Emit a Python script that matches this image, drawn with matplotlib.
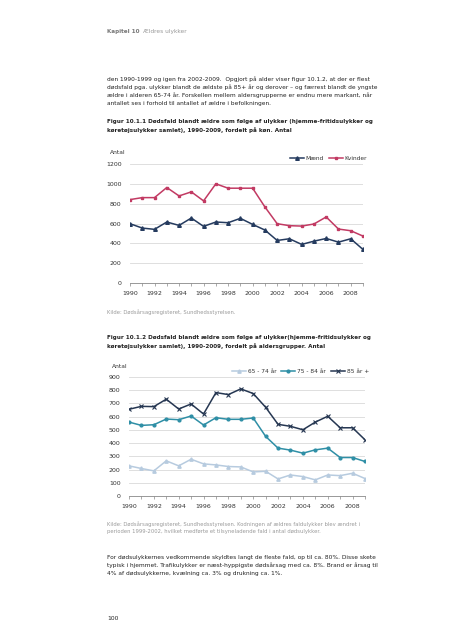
import matplotlib
matplotlib.use("Agg")
import matplotlib.pyplot as plt

plt.rcParams['font.family'] = ['DejaVu Sans']

years = list(range(1990, 2010))

# Figur 10.1.1 - by sex
maend = [598, 554, 541, 615, 581, 655, 571, 615, 608, 652,
         591, 534, 429, 446, 389, 422, 449, 412, 446, 338]
kvinder = [841, 861, 861, 963, 878, 919, 828, 1000, 956, 956,
           956, 767, 598, 578, 574, 595, 666, 544, 527, 473]

# Figur 10.1.2 - by age group
age_65_74 = [228, 208, 190, 266, 228, 278, 243, 235, 223, 220,
             182, 187, 129, 159, 147, 122, 159, 154, 172, 132]
age_75_84 = [559, 534, 539, 582, 577, 605, 537, 592, 580, 580,
             590, 451, 362, 347, 324, 349, 362, 291, 291, 261]
age_85 = [656, 678, 676, 732, 658, 696, 620, 782, 767, 810,
          775, 671, 542, 527, 501, 559, 603, 516, 516, 425]

W, H = 452, 640
fig = plt.figure(figsize=(W / 100, H / 100), dpi=100)
fig.patch.set_facecolor('white')

TXT = '#222222'
GREY = '#9a9a9a'
FS = 4.2
FS_BOLD = 4.05
FS_SMALL = 3.75


def ftext(x, y, s, **kw):
    kw.setdefault('fontsize', FS)
    kw.setdefault('color', TXT)
    fig.text(x / W, 1 - y / H, s, va='center', ha='left', **kw)


def style_axes(ax, ymax, ystep):
    ax.set_xlim(1990, 2009)
    ax.set_ylim(0, ymax)
    ax.set_yticks(range(0, ymax + 1, ystep))
    ax.set_xticks(years, minor=True)
    ax.set_xticks(range(1990, 2009, 2))
    ax.grid(axis='y', color='#d9d9d9', linewidth=0.6)
    ax.set_axisbelow(True)
    for s in ['top', 'right', 'left']:
        ax.spines[s].set_visible(False)
    ax.spines['bottom'].set_color('#888888')
    ax.spines['bottom'].set_linewidth(0.6)
    ax.tick_params(axis='y', length=0, labelsize=4.5, labelcolor='#333333', pad=6)
    ax.tick_params(axis='x', which='both', length=2.5, width=0.5, color='#888888',
                   labelsize=4.5, labelcolor='#333333', pad=3)


def add_axes(x0, x1, ytop, ybot):
    return fig.add_axes([x0 / W, 1 - ybot / H, (x1 - x0) / W, (ybot - ytop) / H])


# header and body text
ftext(107, 31, 'Kapitel 10', color='#777777', fontweight='bold', fontsize=FS_BOLD)
ftext(143, 31, 'Ældres ulykker', color='#999999')

para1 = ['den 1990-1999 og igen fra 2002-2009.  Opgjort på alder viser figur 10.1.2, at der er flest',
         'dødsfald pga. ulykker blandt de ældste på 85+ år og derover \u2013 og færrest blandt de yngste',
         'ældre i alderen 65-74 år. Forskellen mellem aldersgrupperne er endnu mere markant, når',
         'antallet ses i forhold til antallet af ældre i befolkningen.']
for i, line in enumerate(para1):
    ftext(107, 79 + 8 * i, line)

ftext(107, 122, 'Figur 10.1.1 Dødsfald blandt ældre som følge af ulykker (hjemme-fritidsulykker og',
      fontweight='bold', fontsize=FS_BOLD)
ftext(107, 130, 'køretøjsulykker samlet), 1990-2009, fordelt på køn. Antal',
      fontweight='bold', fontsize=FS_BOLD)

leg_kw = dict(frameon=False, fontsize=4.2, handlelength=2.4, columnspacing=0.9,
              handletextpad=0.3, borderaxespad=0.1, labelcolor='#333333')

# chart 1
ax1 = add_axes(130, 363, 164, 283)
ax1.plot(years, maend, color='#253b5f', linewidth=1.1, marker='^', markersize=2.6,
         label='Mænd')
ax1.plot(years, kvinder, color='#c23a63', linewidth=1.1, marker='s', markersize=2.0,
         label='Kvinder')
style_axes(ax1, 1200, 200)
ax1.legend(loc='lower right', bbox_to_anchor=(1.03, 1.0), ncol=2, **leg_kw)
ftext(110, 153, 'Antal', fontsize=4.3, color='#333333')

ftext(107, 312, 'Kilde: Dødsårsagsregisteret, Sundhedsstyrelsen.', color=GREY,
      fontsize=FS_SMALL)

ftext(107, 337, 'Figur 10.1.2 Dødsfald blandt ældre som følge af ulykker(hjemme-fritidsulykker og',
      fontweight='bold', fontsize=FS_BOLD)
ftext(107, 346, 'køretøjsulykker samlet), 1990-2009, fordelt på aldersgrupper. Antal',
      fontweight='bold', fontsize=FS_BOLD)

# chart 2
ax2 = add_axes(129, 365, 377, 496)
ax2.plot(years, age_65_74, color='#b7cbdf', linewidth=1.1, marker='^', markersize=2.4,
         label='65 - 74 år')
ax2.plot(years, age_75_84, color='#2f8fa6', linewidth=1.1, marker='o', markersize=2.0,
         label='75 - 84 år')
ax2.plot(years, age_85, color='#263752', linewidth=1.1, marker='x', markersize=2.4,
         markeredgewidth=0.8, label='85 år +')
style_axes(ax2, 900, 100)
ax2.legend(loc='lower right', bbox_to_anchor=(1.03, 1.0), ncol=3, **leg_kw)
ftext(112, 366, 'Antal', fontsize=4.3, color='#333333')

ftext(107, 524, 'Kilde: Dødsårsagsregisteret, Sundhedsstyrelsen. Kodningen af ældres faldulykker blev ændret i',
      color=GREY, fontsize=FS_SMALL)
ftext(107, 532, 'perioden 1999-2002, hvilket medførte et tilsyneladende fald i antal dødsulykker.',
      color=GREY, fontsize=FS_SMALL)

para2 = ['For dødsulykkernes vedkommende skyldtes langt de fleste fald, op til ca. 80%. Disse skete',
         'typisk i hjemmet. Trafikulykker er næst-hyppigste dødsårsag med ca. 8%. Brand er årsag til',
         '4% af dødsulykkerne, kvælning ca. 3% og drukning ca. 1%.']
for i, line in enumerate(para2):
    ftext(107, 557 + 8 * i, line)

ftext(107, 618, '100', fontsize=4.3)

fig.savefig('out.png', dpi=100, facecolor='white')
